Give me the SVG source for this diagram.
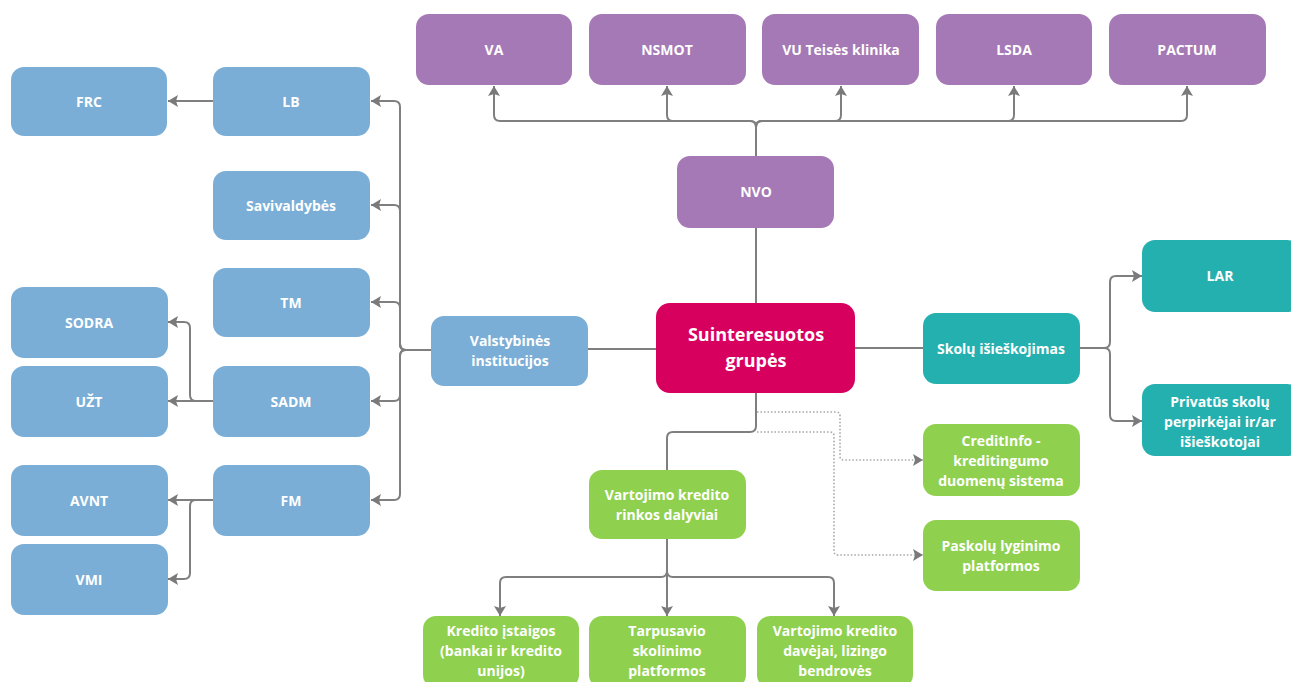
<svg xmlns="http://www.w3.org/2000/svg" width="1291" height="682" viewBox="0 0 1291 682">
<style>
.n{stroke:none}
.blue{fill:#7aaed6}
.purple{fill:#a479b5}
.pink{fill:#d8005f}
.teal{fill:#25b0b0}
.green{fill:#8fd14f}
text{font-family:"Open Sans","Liberation Sans",sans-serif;font-weight:bold;font-size:14px;fill:#ffffff;text-anchor:middle;dominant-baseline:central}
.big{font-size:18px}
.c{fill:none;stroke:#7f7f7f;stroke-width:2}
.d{fill:none;stroke:#a6a6a6;stroke-width:1.6;stroke-dasharray:1.5 2}
</style>
<defs>
<marker id="ah" viewBox="0 0 10 12" refX="10" refY="6" markerWidth="10" markerHeight="12" orient="auto" markerUnits="userSpaceOnUse">
<path d="M0,0 L10,6 L0,12 L2,6 z" fill="#7a7a7a"/>
</marker>
</defs>
<rect width="1291" height="682" fill="#ffffff"/>
<g id="connectors">
<path class="c" d="M756,156 V127 Q756,121 750,121 H500 Q494,121 494,115 V86" marker-end="url(#ah)"/>
<path class="c" d="M756,156 V127 Q756,121 750,121 H673 Q667,121 667,115 V86" marker-end="url(#ah)"/>
<path class="c" d="M756,156 V127 Q756,121 762,121 H835 Q841,121 841,115 V86" marker-end="url(#ah)"/>
<path class="c" d="M756,156 V127 Q756,121 762,121 H1008 Q1014,121 1014,115 V86" marker-end="url(#ah)"/>
<path class="c" d="M756,156 V127 Q756,121 762,121 H1181 Q1187,121 1187,115 V86" marker-end="url(#ah)"/>
<path class="c" d="M756,228 V303"/>
<path class="c" d="M588,349 H656"/>
<path class="c" d="M431,350 H406 Q400,350 400,344 V107 Q400,101 394,101 H371" marker-end="url(#ah)"/>
<path class="c" d="M431,350 H406 Q400,350 400,344 V211 Q400,205 394,205 H371" marker-end="url(#ah)"/>
<path class="c" d="M431,350 H406 Q400,350 400,344 V308 Q400,302 394,302 H371" marker-end="url(#ah)"/>
<path class="c" d="M431,350 H406 Q400,350 400,356 V395 Q400,401 394,401 H371" marker-end="url(#ah)"/>
<path class="c" d="M431,350 H406 Q400,350 400,356 V494 Q400,500 394,500 H371" marker-end="url(#ah)"/>
<path class="c" d="M213,101 H168" marker-end="url(#ah)"/>
<path class="c" d="M213,401 H168" marker-end="url(#ah)"/>
<path class="c" d="M213,401 H196 Q190,401 190,395 V328 Q190,322 184,322 H168" marker-end="url(#ah)"/>
<path class="c" d="M213,500 H168" marker-end="url(#ah)"/>
<path class="c" d="M213,500 H196 Q190,500 190,506 V573 Q190,579 184,579 H168" marker-end="url(#ah)"/>
<path class="c" d="M855,348 H923"/>
<path class="c" d="M1080,348 H1104 Q1110,348 1110,342 V282 Q1110,276 1116,276 H1142" marker-end="url(#ah)"/>
<path class="c" d="M1080,348 H1104 Q1110,348 1110,354 V415 Q1110,421 1116,421 H1142" marker-end="url(#ah)"/>
<path class="c" d="M756,393 V426 Q756,432 750,432 H673 Q667,432 667,438 V470"/>
<path class="c" d="M667,539 V571 Q667,577 661,577 H506 Q500,577 500,583 V616" marker-end="url(#ah)"/>
<path class="c" d="M667,539 V616" marker-end="url(#ah)"/>
<path class="c" d="M667,539 V571 Q667,577 673,577 H828 Q834,577 834,583 V616" marker-end="url(#ah)"/>
<path class="d" d="M757,412 H836 Q840,412 840,416 V456 Q840,460 844,460 H923" marker-end="url(#ah)"/>
<path class="d" d="M757,432 H830 Q834,432 834,436 V551 Q834,555 838,555 H923" marker-end="url(#ah)"/>
</g>
<g id="n-va"><rect class="purple" x="416" y="14" width="156" height="71" rx="13"/><text x="494" y="49">VA</text></g>
<g id="n-nsmot"><rect class="purple" x="589" y="14" width="157" height="71" rx="13"/><text x="667" y="49">NSMOT</text></g>
<g id="n-vu"><rect class="purple" x="762" y="14" width="157" height="71" rx="13"/><text x="841" y="49">VU Teisės klinika</text></g>
<g id="n-lsda"><rect class="purple" x="936" y="14" width="156" height="71" rx="13"/><text x="1014" y="49">LSDA</text></g>
<g id="n-pactum"><rect class="purple" x="1109" y="14" width="157" height="71" rx="13"/><text x="1187" y="49">PACTUM</text></g>
<g id="n-nvo"><rect class="purple" x="677" y="156" width="157" height="72" rx="13"/><text x="756" y="191">NVO</text></g>
<g id="n-frc"><rect class="blue" x="11" y="67" width="156" height="69" rx="13"/><text x="89" y="101">FRC</text></g>
<g id="n-lb"><rect class="blue" x="213" y="67" width="157" height="69" rx="13"/><text x="291" y="101">LB</text></g>
<g id="n-sav"><rect class="blue" x="213" y="171" width="157" height="69" rx="13"/><text x="291" y="205">Savivaldybės</text></g>
<g id="n-tm"><rect class="blue" x="213" y="268" width="157" height="69" rx="13"/><text x="291" y="302">TM</text></g>
<g id="n-sodra"><rect class="blue" x="11" y="287" width="157" height="71" rx="13"/><text x="89" y="322">SODRA</text></g>
<g id="n-uzt"><rect class="blue" x="11" y="366" width="157" height="71" rx="13"/><text x="89" y="401">UŽT</text></g>
<g id="n-sadm"><rect class="blue" x="213" y="366" width="157" height="71" rx="13"/><text x="291" y="401">SADM</text></g>
<g id="n-avnt"><rect class="blue" x="11" y="465" width="157" height="71" rx="13"/><text x="89" y="500">AVNT</text></g>
<g id="n-fm"><rect class="blue" x="213" y="465" width="157" height="71" rx="13"/><text x="291" y="500">FM</text></g>
<g id="n-vmi"><rect class="blue" x="11" y="544" width="157" height="71" rx="13"/><text x="89" y="579">VMI</text></g>
<g id="n-valst"><rect class="blue" x="431" y="316" width="157" height="70" rx="13"/><text x="510" y="340">Valstybinės</text><text x="510" y="360">institucijos</text></g>
<g id="n-center"><rect class="pink" x="656" y="303" width="199" height="90" rx="14"/><text class="big" x="756" y="334">Suinteresuotos</text><text class="big" x="756" y="360">grupės</text></g>
<g id="n-skolu"><rect class="teal" x="923" y="313" width="157" height="71" rx="13"/><text x="1001" y="348">Skolų išieškojimas</text></g>
<g id="n-lar"><rect class="teal" x="1142" y="240" width="158" height="72" rx="13"/><text x="1220" y="275">LAR</text></g>
<g id="n-priv"><rect class="teal" x="1142" y="384" width="158" height="72" rx="13"/><text x="1220" y="401">Privatūs skolų</text><text x="1220" y="421">perpirkėjai ir/ar</text><text x="1220" y="441">išieškotojai</text></g>
<g id="n-vart"><rect class="green" x="589" y="470" width="157" height="69" rx="13"/><text x="667" y="494">Vartojimo kredito</text><text x="667" y="514">rinkos dalyviai</text></g>
<g id="n-credit"><rect class="green" x="923" y="424" width="157" height="72" rx="13"/><text x="1001" y="440">CreditInfo -</text><text x="1001" y="460">kreditingumo</text><text x="1001" y="480">duomenų sistema</text></g>
<g id="n-pask"><rect class="green" x="923" y="520" width="157" height="71" rx="13"/><text x="1001" y="545">Paskolų lyginimo</text><text x="1001" y="565">platformos</text></g>
<g id="n-kred"><rect class="green" x="423" y="616" width="156" height="72" rx="13"/><text x="501" y="630">Kredito įstaigos</text><text x="501" y="650">(bankai ir kredito</text><text x="501" y="670">unijos)</text></g>
<g id="n-tarp"><rect class="green" x="589" y="616" width="157" height="72" rx="13"/><text x="667" y="630">Tarpusavio</text><text x="667" y="650">skolinimo</text><text x="667" y="670">platformos</text></g>
<g id="n-dav"><rect class="green" x="757" y="616" width="156" height="72" rx="13"/><text x="835" y="630">Vartojimo kredito</text><text x="835" y="650">davėjai, lizingo</text><text x="835" y="670">bendrovės</text></g>
</svg>
